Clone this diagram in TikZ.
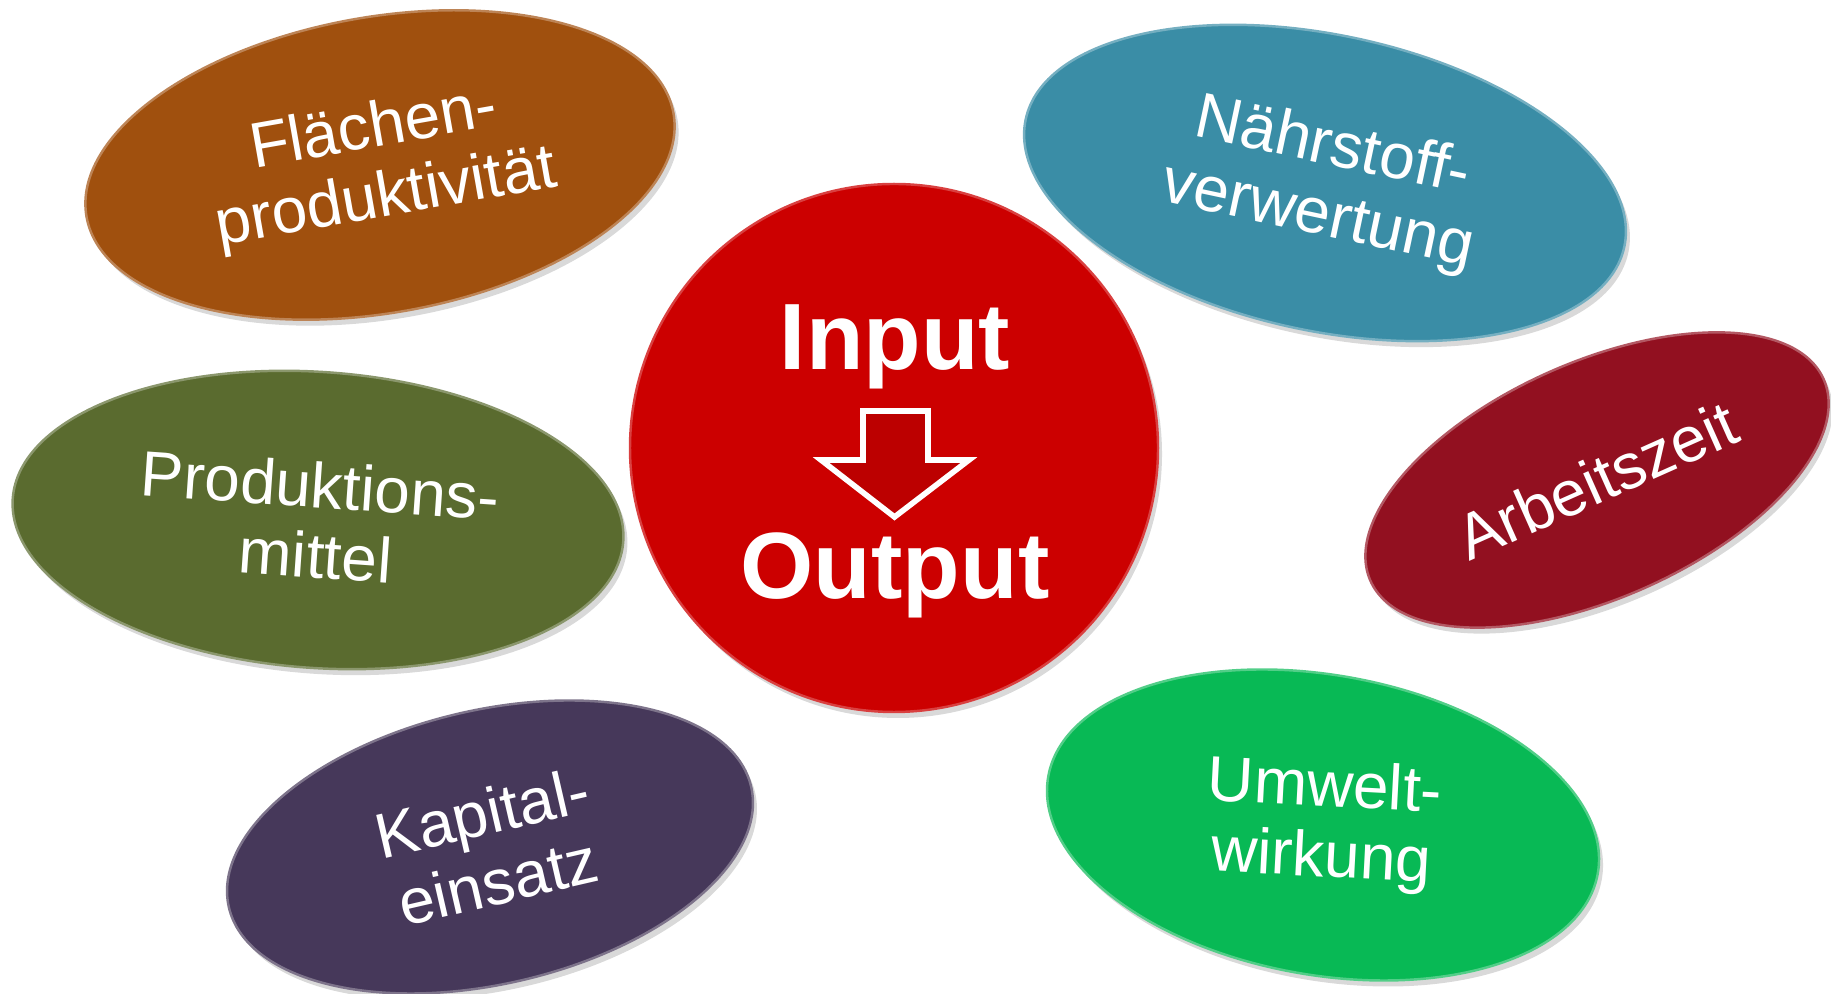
\documentclass[tikz,border=0pt]{standalone}
\usepackage{fontspec}
\setmainfont{Liberation Sans}
\usetikzlibrary{shapes.geometric,shadows}

\definecolor{flaechecol}{RGB}{160,80,14}
\definecolor{naehrcol}{RGB}{58,141,166}
\definecolor{prodcol}{RGB}{90,107,47}
\definecolor{arbeitcol}{RGB}{146,16,32}
\definecolor{kapitalcol}{RGB}{70,56,90}
\definecolor{umweltcol}{RGB}{8,185,85}
\definecolor{inoutcol}{RGB}{204,0,0}

\begin{document}
\begin{tikzpicture}[
    blobtext/.style={text=white, align=center, inner sep=0pt, font=\fontsize{18.2}{20}\selectfont},
    blob/.style={blobtext, ellipse, fill=#1, draw=#1!70!white, line width=0.7pt,
        drop shadow={opacity=0.3, shadow xshift=0.4mm, shadow yshift=-0.6mm}},
    bigword/.style={text=white, anchor=base, font=\bfseries\fontsize{26.8}{30}\selectfont}
]
    \useasboundingbox (0,0) rectangle (18.31,9.94);

    % Input -> Output
    \node[circle, fill=inoutcol, draw=inoutcol!75!white, line width=0.7pt, minimum size=5.28cm,
        drop shadow={opacity=0.3, shadow xshift=0.4mm, shadow yshift=-0.6mm}] (centre) at (8.94,5.46) {};
    \node[bigword] (input) at (8.95,6.24) {Input};
    \node[bigword] (output) at (8.95,3.95) {Output};
    \draw[white, fill=inoutcol!92!black, line width=1.6pt, line join=miter]
        (8.63,5.83) -- (9.28,5.83) -- (9.28,5.34) -- (9.69,5.34) -- (8.945,4.77)
        -- (8.21,5.34) -- (8.63,5.34) -- cycle;

    % Factors round it
    \node[blob=flaechecol, minimum width=5.96cm, minimum height=2.96cm, rotate=10]
        (flaeche) at (3.80,8.29) {Flächen-\\produktivität};
    \node[blob=naehrcol, minimum width=6.12cm, minimum height=2.96cm, rotate=-12]
        (naehr) at (13.25,8.11) {Nährstoff-\\verwertung};
    \node[blob=prodcol, minimum width=6.12cm, minimum height=2.96cm, rotate=-4]
        (prod) at (3.18,4.74) {Produktions-\\mittel};
    \node[blob=arbeitcol, minimum width=4.96cm, minimum height=2.36cm, rotate=24]
        (arbeit) at (15.97,5.14) {Arbeitszeit};
    \node[blob=kapitalcol, minimum width=5.36cm, minimum height=2.74cm, rotate=13]
        (kapital) at (4.90,1.47) {Kapital-\\einsatz};
    \node[blob=umweltcol, minimum width=5.58cm, minimum height=3.00cm, rotate=-10]
        (umwelt) at (13.23,1.69) {};
    \node[blobtext, rotate=-3] (umwelttext) at (umwelt) {Umwelt-\\wirkung};
\end{tikzpicture}
\end{document}
